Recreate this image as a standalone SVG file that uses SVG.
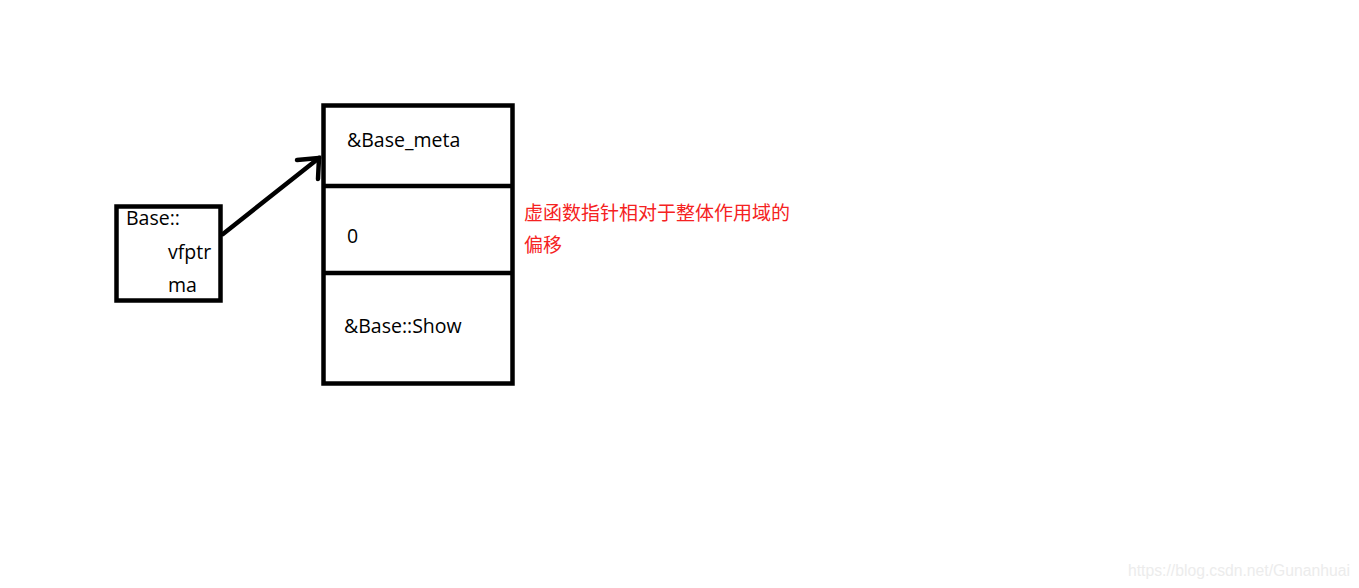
<svg xmlns="http://www.w3.org/2000/svg" width="1359" height="588" viewBox="0 0 1359 588">
<style>
.box{fill:none;stroke:#000;stroke-width:4.5}
.t{font-family:"Open Sans","Liberation Sans",sans-serif;font-size:19.5px;fill:#000}
.red{font-family:"Noto Sans CJK SC",sans-serif;font-size:19px;fill:#f52222}
.wm{font-family:"Liberation Sans",sans-serif;font-size:16px;fill:#ececec}
</style>
<rect width="1359" height="588" fill="#fff"/>
<g id="vtable">
<rect class="box" x="323.5" y="105.5" width="189" height="278"/>
<line class="box" x1="323.5" y1="186" x2="512.5" y2="186"/>
<line class="box" x1="323.5" y1="273" x2="512.5" y2="273"/>
<text class="t" x="347" y="147">&amp;Base_meta</text>
<text class="t" x="347" y="243">0</text>
<text class="t" x="344" y="333">&amp;Base::Show</text>
</g>
<g id="base">
<rect class="box" x="116.5" y="206.5" width="104" height="94"/>
<text class="t" x="126" y="225">Base::</text>
<text class="t" x="168" y="259">vfptr</text>
<text class="t" x="168" y="292">ma</text>
</g>
<g id="note">
<text class="red" x="524" y="220">虚函数指针相对于整体作用域的</text>
<text class="red" x="524" y="252">偏移</text>
</g>
<g id="connectors" fill="none" stroke="#000" stroke-width="4.5" stroke-linecap="round">
<line x1="223" y1="234" x2="319" y2="158"/>
<polyline points="297,160 319,158 318,179"/>
</g>
<text class="wm" x="1128" y="576" textLength="222" lengthAdjust="spacingAndGlyphs">https://blog.csdn.net/Gunanhuai</text>
</svg>
